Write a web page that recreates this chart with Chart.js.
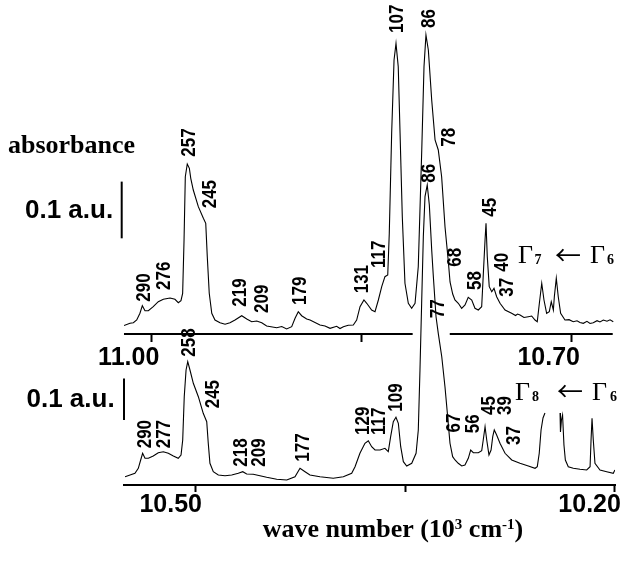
<!DOCTYPE html>
<html><head><meta charset="utf-8">
<script src="https://cdn.jsdelivr.net/npm/chart.js@4.4.1/dist/chart.umd.min.js"></script>
<style>html,body{margin:0;padding:0;background:#fff;}#wrap{width:623px;height:561px;}</style>
</head><body><div id="wrap"><canvas id="c" width="623" height="561"></canvas></div>
<script>
// ---- data: wave number (10^3 cm^-1), absorbance (a.u., arbitrary offset) ----
const topSpectrum = [[11.0198,0.0079],[11.0155,0.0118],[11.0131,0.0129],[11.0107,0.0176],[11.0084,0.0295],[11.0067,0.0429],[11.0048,0.034],[11.0024,0.034],[10.9989,0.0411],[10.9953,0.0499],[10.9917,0.0541],[10.9869,0.0564],[10.9834,0.0541],[10.981,0.0481],[10.9791,0.0517],[10.9779,0.0647],[10.9769,0.1587],[10.976,0.2704],[10.9746,0.2928],[10.9731,0.2852],[10.9721,0.2675],[10.9703,0.2469],[10.9667,0.2175],[10.9631,0.197],[10.9614,0.1882],[10.9603,0.1293],[10.9589,0.0647],[10.9571,0.0295],[10.9548,0.0176],[10.9512,0.0129],[10.9476,0.0101],[10.9441,0.0129],[10.9405,0.0176],[10.9357,0.0252],[10.9321,0.0194],[10.9286,0.0146],[10.925,0.0159],[10.9214,0.0129],[10.9179,0.0071],[10.9107,0.0041],[10.9071,0.0062],[10.9036,0.0018],[10.9,0.0058],[10.8976,0.0206],[10.8953,0.0323],[10.8929,0.0252],[10.8893,0.0194],[10.8869,0.0176],[10.8798,0.0088],[10.8762,0.0071],[10.8726,0.003],[10.8679,0.0065],[10.8655,0.0026],[10.8631,0.0058],[10.8596,0.0085],[10.856,0.0088],[10.8536,0.0176],[10.8512,0.0411],[10.8484,0.0529],[10.8464,0.0471],[10.8429,0.0353],[10.8405,0.0323],[10.8381,0.0529],[10.8357,0.0764],[10.8334,0.094],[10.8314,0.097],[10.8303,0.1705],[10.8286,0.3469],[10.8269,0.4762],[10.8255,0.5056],[10.8239,0.4644],[10.8226,0.3469],[10.821,0.1998],[10.8191,0.0824],[10.8167,0.0471],[10.8143,0.0383],[10.8119,0.0471],[10.8096,0.1116],[10.8071,0.3175],[10.8055,0.4644],[10.8041,0.5203],[10.8024,0.4938],[10.8,0.4056],[10.7976,0.3351],[10.7953,0.3175],[10.7929,0.2704],[10.7905,0.1822],[10.7881,0.1199],[10.7869,0.0847],[10.785,0.0635],[10.7834,0.0529],[10.781,0.0471],[10.7786,0.0383],[10.7762,0.0441],[10.7739,0.0577],[10.7714,0.0529],[10.7691,0.0383],[10.7667,0.0353],[10.7643,0.0411],[10.7631,0.1],[10.7619,0.1587],[10.7612,0.1882],[10.7603,0.1293],[10.7589,0.0764],[10.7571,0.0675],[10.7555,0.0735],[10.7536,0.0587],[10.7512,0.0471],[10.7476,0.0353],[10.7429,0.0295],[10.7401,0.0256],[10.7387,0.0282],[10.7369,0.0265],[10.7341,0.022],[10.731,0.0235],[10.7286,0.0247],[10.7262,0.0176],[10.7246,0.0146],[10.7231,0.0471],[10.7214,0.0824],[10.7198,0.0529],[10.7179,0.0295],[10.716,0.0323],[10.7146,0.0499],[10.7131,0.0353],[10.7124,0.0587],[10.711,0.0912],[10.7096,0.0587],[10.7079,0.0295],[10.7048,0.0176],[10.7019,0.0182],[10.6989,0.0146],[10.6962,0.0162],[10.6941,0.0132],[10.6917,0.0118],[10.6891,0.0153],[10.6869,0.0115],[10.6846,0.0129],[10.6819,0.0164],[10.6798,0.0141],[10.6774,0.0176],[10.6748,0.0155],[10.6726,0.018],[10.6703,0.0146]];

const bottomSpectrum = [[10.5506,0.0128],[10.547,0.0169],[10.5435,0.021],[10.5411,0.033],[10.5394,0.053],[10.538,0.0692],[10.5363,0.0571],[10.5339,0.0571],[10.5304,0.0627],[10.5268,0.0706],[10.5232,0.073],[10.5196,0.0692],[10.516,0.0627],[10.5125,0.0571],[10.5105,0.0651],[10.5093,0.1012],[10.5082,0.2055],[10.5069,0.2699],[10.5057,0.2899],[10.5041,0.2699],[10.5017,0.2378],[10.4981,0.2055],[10.4946,0.1655],[10.4921,0.1453],[10.491,0.0933],[10.4898,0.0451],[10.4874,0.0248],[10.4838,0.0169],[10.479,0.0152],[10.4742,0.0169],[10.4695,0.021],[10.4663,0.0248],[10.4635,0.0193],[10.4588,0.0186],[10.454,0.0152],[10.4492,0.0113],[10.442,0.0065],[10.4348,0.0048],[10.4289,0.0128],[10.4253,0.033],[10.4217,0.0248],[10.4182,0.0169],[10.411,0.0128],[10.4015,0.0089],[10.3943,0.0128],[10.3883,0.021],[10.3859,0.0369],[10.3824,0.0692],[10.3788,0.0933],[10.3764,0.0995],[10.374,0.0851],[10.3716,0.0771],[10.368,0.0771],[10.3645,0.0812],[10.3621,0.073],[10.3604,0.1092],[10.3585,0.1453],[10.3566,0.1559],[10.3549,0.1414],[10.3532,0.0851],[10.3513,0.0489],[10.3489,0.0386],[10.3453,0.0451],[10.3422,0.0692],[10.3406,0.1253],[10.3394,0.2699],[10.3382,0.4306],[10.337,0.5911],[10.3358,0.6875],[10.3342,0.7157],[10.3327,0.6675],[10.331,0.559],[10.3299,0.4988],[10.3279,0.3983],[10.3263,0.3583],[10.3238,0.3019],[10.3215,0.2296],[10.3198,0.1655],[10.3179,0.0933],[10.316,0.061],[10.3143,0.053],[10.312,0.0451],[10.3095,0.0386],[10.3072,0.041],[10.3048,0.0571],[10.3031,0.0771],[10.3012,0.0706],[10.2976,0.0706],[10.2952,0.0754],[10.2941,0.1012],[10.2928,0.1333],[10.2916,0.1012],[10.29,0.0651],[10.2885,0.0771],[10.2873,0.1092],[10.2862,0.1253],[10.2845,0.1133],[10.2821,0.0933],[10.2785,0.0692],[10.2737,0.053],[10.2678,0.0451],[10.2618,0.0386],[10.257,0.033],[10.2554,0.0369],[10.254,0.0692],[10.2527,0.1253],[10.2513,0.1542],[10.2499,0.1663],[10.245,null],[10.2391,0.1663],[10.2388,0.1205],[10.2381,0.1494],[10.2373,0.1614],[10.2363,0.0892],[10.2353,0.053],[10.2332,0.0369],[10.2296,0.033],[10.2248,0.0306],[10.22,0.0289],[10.2176,0.0369],[10.2169,0.1012],[10.2162,0.1535],[10.2153,0.1012],[10.2141,0.0451],[10.2105,0.0289],[10.2057,0.0248],[10.201,0.021],[10.1998,0.0289]];

// peak labels (cm^-1 offsets), anchored at [wave number, absorbance]
const topLabelText = ['290','276','257','245','219','209','179','131','117','107','86','78','68','58','45','40','37'];
const topLabelX = [11.0067,10.9923,10.9744,10.9591,10.9376,10.9221,10.8948,10.8505,10.8387,10.8255,10.803,10.7887,10.7841,10.7701,10.7591,10.7509,10.7471];
const topLabelY = [0.0499,0.0705,0.3056,0.2146,0.0411,0.03,0.0441,0.0647,0.1093,0.5238,0.5326,0.3233,0.1116,0.0705,0.1998,0.1028,0.0587];

const botLabelText = ['290','277','258','245','218','209','177','129','117','109','86','77','67','56','45','39','37'];
const botLabelX = [10.5375,10.5238,10.5059,10.4885,10.4683,10.4552,10.4241,10.3811,10.3698,10.3573,10.334,10.3272,10.3161,10.3024,10.291,10.2797,10.2726];
const botLabelY = [0.0812,0.0812,0.3019,0.1776,0.0369,0.0369,0.0489,0.1133,0.1133,0.1694,0.7212,0.3945,0.1193,0.1173,0.1614,0.1614,0.0892];

// axis ticks
const topTickValues = [10.70, 10.85, 11.00];
const topTickLabels = ['10.70', '', '11.00'];
const botTickValues = [10.20, 10.35, 10.50];
const botTickLabels = ['10.20', '', '10.50'];

// scale bars (0.1 a.u.) and transition labels
const topScaleBar = [0.1617, 0.2617];
const botScaleBar = [0.1494, 0.2494];
const topTransition = { x: 10.7384, y: 0.1176, a: '7', b: '6' };
const botTransition = { x: 10.2714, y: 0.1976, a: '8', b: '6' };
const topAxisSegments = [[11.0198, 10.8136], [10.7871, 10.6707]];

const INK = '#000';
const SANS = '"Liberation Sans", Arial, Helvetica, sans-serif';
const SERIF = '"Liberation Serif", "Times New Roman", Times, serif';

function drawRotLabel(ctx, text, px, py) {
  ctx.save();
  ctx.translate(px, py);
  ctx.rotate(-Math.PI / 2);
  ctx.scale(0.85, 1);
  ctx.font = 'bold 20px ' + SANS;
  ctx.textAlign = 'left';
  ctx.textBaseline = 'alphabetic';
  ctx.fillText(text, 0, 7.2);
  ctx.restore();
}

function drawTransition(ctx, px, py, a, b, offs) {
  ctx.textAlign = 'left';
  ctx.textBaseline = 'alphabetic';
  ctx.font = '26px ' + SERIF;
  ctx.fillText('Γ', px, py);
  ctx.font = 'bold 14px ' + SERIF;
  ctx.fillText(a, px + offs[0], py + 1);
  ctx.font = '26px "Noto Sans CJK JP", "Noto Sans CJK SC", "DejaVu Sans", sans-serif';
  ctx.textBaseline = 'middle';
  ctx.fillText('←', px + offs[1], py - 8.5, 26);
  ctx.textBaseline = 'alphabetic';
  ctx.font = '26px ' + SERIF;
  ctx.fillText('Γ', px + offs[2], py);
  ctx.font = 'bold 14px ' + SERIF;
  ctx.fillText(b, px + offs[3], py + 1);
}

const annotations = {
  id: 'annotations',
  afterDraw(chart) {
    const ctx = chart.ctx;
    const xT = chart.scales.xTop, yT = chart.scales.yTop;
    const xB = chart.scales.xBot, yB = chart.scales.yBot;
    ctx.save();
    ctx.fillStyle = INK;
    ctx.strokeStyle = INK;

    // top axis line with a gap
    const axY = Math.round(yT.getPixelForValue(-0.0071));
    ctx.lineWidth = 2;
    topAxisSegments.forEach(s => {
      ctx.beginPath();
      ctx.moveTo(xT.getPixelForValue(s[0]), axY);
      ctx.lineTo(xT.getPixelForValue(s[1]), axY);
      ctx.stroke();
    });

    // peak labels
    topLabelText.forEach((t, i) => drawRotLabel(ctx, t, xT.getPixelForValue(topLabelX[i]), yT.getPixelForValue(topLabelY[i])));
    botLabelText.forEach((t, i) => drawRotLabel(ctx, t, xB.getPixelForValue(botLabelX[i]), yB.getPixelForValue(botLabelY[i])));

    // scale bars
    const ca = chart.chartArea;
    ctx.lineWidth = 2;
    ctx.beginPath();
    ctx.moveTo(ca.left - 2.3, yT.getPixelForValue(topScaleBar[0]));
    ctx.lineTo(ca.left - 2.3, yT.getPixelForValue(topScaleBar[1]));
    ctx.stroke();
    ctx.beginPath();
    ctx.moveTo(ca.left, yB.getPixelForValue(botScaleBar[0]));
    ctx.lineTo(ca.left, yB.getPixelForValue(botScaleBar[1]));
    ctx.stroke();

    // left texts
    ctx.textAlign = 'left';
    ctx.textBaseline = 'alphabetic';
    ctx.font = 'bold 26px ' + SERIF;
    ctx.fillText('absorbance', 8, 153);
    ctx.font = 'bold 26px ' + SANS;
    ctx.fillText('0.1 a.u.', 25, 218);
    ctx.fillText('0.1 a.u.', 26.5, 406.5);

    // transitions
    drawTransition(ctx, xT.getPixelForValue(topTransition.x), yT.getPixelForValue(topTransition.y), topTransition.a, topTransition.b, [16.5, 37, 72, 89]);
    drawTransition(ctx, xB.getPixelForValue(botTransition.x), yB.getPixelForValue(botTransition.y), botTransition.a, botTransition.b, [17, 42, 77, 95]);

    // axis title with superscripts
    const big = 'bold 26px ' + SERIF, small = 'bold 15px ' + SERIF;
    const parts = [['wave number (10', big, 0], ['3', small, -8], [' cm', big, 0], ['-1', small, -8], [')', big, 0]];
    let w = 0;
    parts.forEach(p => { ctx.font = p[1]; w += ctx.measureText(p[0]).width; });
    let x = 393 - w / 2;
    parts.forEach(p => { ctx.font = p[1]; ctx.fillText(p[0], x, 537 + p[2]); x += ctx.measureText(p[0]).width; });
    ctx.restore();
  }
};

const tickFont = { family: SANS, size: 25, weight: 'bold', lineHeight: 1 };

new Chart(document.getElementById('c'), {
  type: 'line',
  data: {
    datasets: [
      { label: 'Γ7 ← Γ6', data: topSpectrum.map(p => ({ x: p[0], y: p[1] })), xAxisID: 'xTop', yAxisID: 'yTop',
        borderColor: INK, borderWidth: 1.1, pointRadius: 0, tension: 0, fill: false },
      { label: 'Γ8 ← Γ6', data: bottomSpectrum.map(p => ({ x: p[0], y: p[1] })), xAxisID: 'xBot', yAxisID: 'yBot',
        borderColor: INK, borderWidth: 1.1, pointRadius: 0, tension: 0, fill: false, spanGaps: false }
    ]
  },
  options: {
    responsive: false, animation: false, devicePixelRatio: 1,
    layout: { padding: { left: 124, right: 8, top: 0, bottom: 0 } },
    plugins: { legend: { display: false }, tooltip: { enabled: false } },
    scales: {
      yTop: { axis: 'y', type: 'linear', display: false, min: -0.27337, max: 0.58201 },
      yBot: { axis: 'y', type: 'linear', display: false, min: -0.00723, max: 1.16145 },
      xTop: {
        axis: 'x', type: 'linear', reverse: true, min: 10.66907, max: 11.01979,
        position: { yTop: -0.0071 },
        border: { display: false },
        grid: { drawOnChartArea: false, drawTicks: true, tickLength: 8, tickWidth: 2, tickColor: INK },
        ticks: { autoSkip: false, maxRotation: 0, minRotation: 0, padding: 4, labelOffset: -23, color: INK, font: tickFont,
          callback: (v, i) => topTickLabels[i] },
        afterBuildTicks: s => { s.ticks = topTickValues.map(v => ({ value: v })); }
      },
      xBot: {
        axis: 'x', type: 'linear', reverse: true, min: 10.19975, max: 10.55134, position: 'bottom',
        border: { display: true, width: 2, color: INK },
        grid: { drawOnChartArea: false, drawTicks: true, tickLength: 7, tickWidth: 2, tickColor: INK },
        ticks: { autoSkip: false, maxRotation: 0, minRotation: 0, padding: 1, labelOffset: -25, color: INK, font: tickFont,
          callback: (v, i) => botTickLabels[i] },
        afterBuildTicks: s => { s.ticks = botTickValues.map(v => ({ value: v })); },
        afterFit: s => { s.height = 76; }
      }
    }
  },
  plugins: [annotations]
});
</script></body></html>
